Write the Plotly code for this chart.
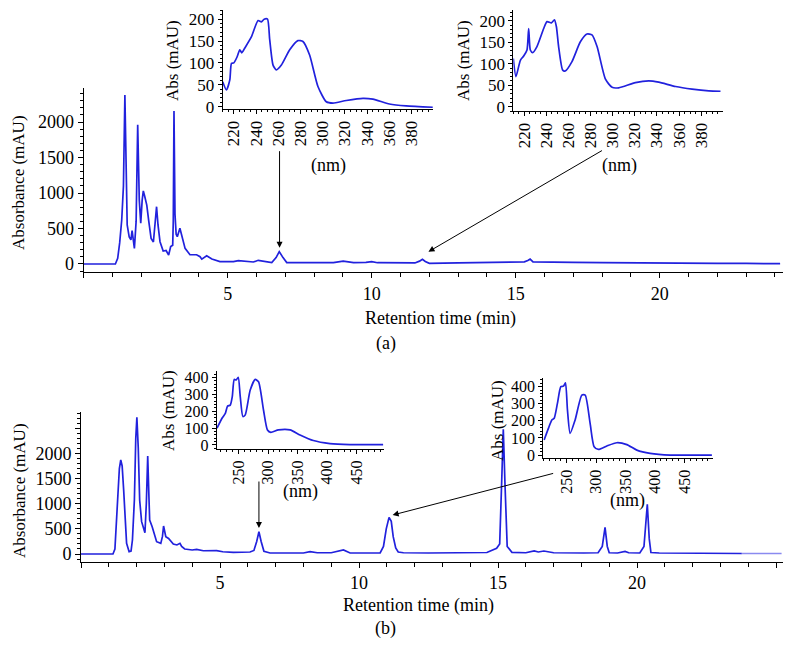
import plotly.graph_objects as go

# ---------------- data ----------------
# Chromatogram (a)
time_a = [0, 1.10, 1.18, 1.25, 1.32, 1.38, 1.43, 1.47, 1.51, 1.58, 1.64, 1.68, 1.72, 1.76, 1.82, 1.875,
          1.93, 1.98, 2.03, 2.07, 2.12, 2.19, 2.26, 2.34, 2.42, 2.48, 2.53, 2.58, 2.65, 2.76, 2.86, 2.95,
          3.02, 3.09, 3.11, 3.135, 3.17, 3.21, 3.25, 3.34, 3.42, 3.52, 3.69, 3.92, 4.04, 4.1, 4.27, 4.45,
          4.73, 5.2, 5.37, 5.6, 5.89, 6.06, 6.3, 6.53, 6.68, 6.79, 6.92, 7.05, 7.5, 8.0, 8.67, 9.01, 9.37,
          9.8, 10.0, 10.2, 11.0, 11.5, 11.66, 11.76, 11.86, 12.0, 13.0, 14.0, 14.69, 15.3, 15.42, 15.5,
          15.6, 15.8, 16.05, 16.3, 17.0, 18.0, 19.2, 20.0, 21.0, 22.0, 23.0, 24.18]
abs_a = [0, 0, 80, 300, 620, 1100, 2380, 1300, 550, 380, 340, 470, 350, 220, 600, 1960,
         900, 575, 900, 1030, 950, 830, 600, 360, 310, 550, 807, 550, 314, 183, 190, 127,
         245, 265, 600, 2155, 700, 420, 385, 503, 380, 220, 130, 130, 103, 68, 117, 70,
         33, 33, 47, 38, 28, 52, 40, 20, 90, 174, 90, 20, 18, 18, 20, 40, 20,
         22, 33, 18, 15, 15, 40, 66, 35, 10, 15, 25, 33, 30, 50, 70,
         30, 28, 35, 25, 22, 20, 20, 20, 15, 10, 8, 5]

# Chromatogram (b)
time_b = [0, 1.15, 1.22, 1.28, 1.32, 1.38, 1.43, 1.48, 1.535, 1.59, 1.64, 1.73, 1.80, 1.85, 1.92, 1.97,
          2.01, 2.06, 2.11, 2.18, 2.24, 2.30, 2.35, 2.40, 2.44, 2.47, 2.56, 2.64, 2.72, 2.87, 2.93, 2.97,
          3.01, 3.05, 3.15, 3.32, 3.45, 3.56, 3.62, 3.73, 4.0, 4.16, 4.4, 4.64, 4.88, 5.1, 5.48, 6.08,
          6.22, 6.32, 6.40, 6.48, 6.58, 6.8, 7.5, 8.0, 8.24, 8.5, 9.0, 9.25, 9.44, 9.68, 10.0, 10.5,
          10.76, 10.88, 10.98, 11.08, 11.16, 11.23, 11.32, 11.41, 11.6, 12.5, 13.5, 14.0, 14.6, 14.95,
          15.06, 15.13, 15.19, 15.25, 15.33, 15.5, 16.0, 16.3, 16.45, 16.65, 17.0, 18.08, 18.6, 18.75,
          18.85, 18.93, 19.0, 19.3, 19.57, 19.7, 20.1, 20.25, 20.37, 20.44, 20.5, 20.8, 21.5, 22.35,
          23.0, 23.77]
abs_b = [0, 0, 100, 700, 1140, 1700, 1870, 1750, 1270, 650, 212, 47, 60, 278, 1073, 2300,
         2717, 2100, 1073, 643, 520, 424, 1000, 1948, 1200, 676, 543, 400, 245, 212, 350, 557,
         420, 344, 310, 199, 180, 212, 150, 100, 80, 93, 65, 60, 66, 45, 33, 40,
         70, 250, 443, 250, 55, 20, 15, 20, 46, 25, 25, 50, 80, 20, 18, 18,
         20, 150, 500, 729, 650, 344, 120, 40, 25, 20, 20, 20, 30, 113,
         200, 1400, 2479, 1400, 150, 33, 25, 60, 40, 60, 25, 20, 25, 150,
         530, 150, 25, 20, 53, 25, 20, 150, 988, 300, 30, 20, 20, 13,
         13, 10]
tail_time_b = [23.77, 25.2]
tail_abs_b = [10, 10]

# UV spectra (insets)
nm_a1 = [210, 213.4, 216.4, 217.9, 220, 223, 225.4, 227.2, 229.9, 235.9, 241.8, 244.8, 247.3, 250.3,
         252.3, 255.3, 258.3, 262.8, 270.3, 277.7, 282.2, 288.2, 295.7, 303.2, 309.2, 321.2, 336.2,
         345.2, 360, 375, 399]
spec_a1 = [57, 38, 61, 99, 100, 114, 130, 123, 134, 160, 197, 194, 200, 200, 153, 95, 84, 95, 130,
           151, 149, 118, 46, 11, 8, 14, 19, 17, 6, 1.5, -1.5]

nm_a2 = [210, 212.4, 216.4, 219.4, 222.4, 223.9, 225.4, 227.5, 231.4, 237.5, 240.5, 244.5, 247.2, 249,
         251, 254.7, 257, 263.1, 270.7, 276.7, 281.2, 285.8, 293.4, 299.4, 305.4, 320.5, 332.6, 341.6,
         356.8, 371.8, 386.9, 397.5]
spec_a2 = [112, 70, 108, 118, 132, 182, 132, 126, 140, 182, 198, 195, 202, 186, 140, 85, 83, 105, 151,
           169, 167, 140, 64, 45, 44, 56, 60, 57, 47, 41, 37, 36]

nm_b1 = [213.5, 222, 227.6, 231.4, 236, 239.4, 242.7, 246, 249.5, 252.9, 257.4, 261.4, 269.8, 278.2,
         283.9, 292.3, 299, 304.7, 317.6, 337.3, 354.2, 376.7, 404.9, 438.7, 495]
spec_b1 = [99, 158, 187, 230, 236, 286, 388, 385, 400, 286, 168, 178, 325, 388, 374, 207, 89, 75, 89,
           89, 59, 26, 8, 2, 2]

nm_b2 = [211.4, 218.7, 224.5, 228.5, 234, 239.8, 244.3, 247.7, 251.1, 255.6, 264.1, 275.5, 281.2,
         289.6, 296.4, 303.8, 318, 335, 352, 369, 391.7, 425.7, 496.6]
spec_b2 = [88, 156, 205, 215, 302, 400, 403, 423, 263, 127, 205, 351, 351, 185, 49, 33, 53, 72, 61,
           29, 10, 0, 0]

# tick steps (major, minor)
main_x_step, main_x_minor = 5, 1
main_y_step, main_y_minor = 500, 100
inset_a_x_step, inset_a_x_minor = 20, 5
inset_a_y_step, inset_a_y_minor = 50, 10
inset_b_x_step, inset_b_x_minor = 50, 10
inset_b_y_step, inset_b_y_minor = 100, 20

assert len(time_a) == len(abs_a) and len(time_b) == len(abs_b)
assert len(nm_a1) == len(spec_a1) and len(nm_a2) == len(spec_a2)
assert len(nm_b1) == len(spec_b1) and len(nm_b2) == len(spec_b2)

# ---------------- layout helpers ----------------
W, H = 795, 668
BLUE = "#2121dd"
FONT = "Liberation Serif"
MAIN_TICK = 18
INSET_TICK = 17
TITLE = 18


def fx(p):
    return p / W


def fy(p):
    return 1 - p / H


def axis(domain, rng, step, minor_step, font_size, ticklen=5, minor_len=3, angle=0, anchor=None,
         hide=None):
    d = dict(domain=domain, range=rng, showline=True, linecolor="black", linewidth=1,
             ticks="outside", tickcolor="black", ticklen=ticklen, tickwidth=1,
             tickmode="linear", tick0=0, dtick=step, showgrid=False, zeroline=False,
             automargin=False,
             tickfont=dict(family=FONT, size=font_size, color="black"), tickangle=angle,
             minor=dict(ticks="outside", ticklen=minor_len, tickcolor="black", tickwidth=1,
                        tickmode="linear", tick0=0, dtick=minor_step, showgrid=False),
             fixedrange=True)
    if hide:
        d["labelalias"] = {h: " " for h in hide}
    if anchor:
        d["anchor"] = anchor
    return d


fig = go.Figure()
line = dict(color=BLUE, width=1.7)
fig.add_trace(go.Scatter(x=time_a, y=abs_a, mode="lines", line=line, xaxis="x", yaxis="y"))
fig.add_trace(go.Scatter(x=time_b, y=abs_b, mode="lines", line=line, xaxis="x2", yaxis="y2"))
fig.add_trace(go.Scatter(x=tail_time_b, y=tail_abs_b, mode="lines",
                         line=dict(color="#8a8af0", width=1.5), xaxis="x2", yaxis="y2"))
sline = dict(color=BLUE, width=1.7, shape="spline", smoothing=0.6)
fig.add_trace(go.Scatter(x=nm_a1, y=spec_a1, mode="lines", line=sline, xaxis="x3", yaxis="y3"))
fig.add_trace(go.Scatter(x=nm_a2, y=spec_a2, mode="lines", line=sline, xaxis="x4", yaxis="y4"))
fig.add_trace(go.Scatter(x=nm_b1, y=spec_b1, mode="lines", line=sline, xaxis="x5", yaxis="y5"))
fig.add_trace(go.Scatter(x=nm_b2, y=spec_b2, mode="lines", line=sline, xaxis="x6", yaxis="y6"))

layout = dict(
    width=W, height=H, margin=dict(l=0, r=0, t=0, b=0, autoexpand=False),
    paper_bgcolor="white", plot_bgcolor="rgba(0,0,0,0)", showlegend=False,
    font=dict(family=FONT, size=TITLE, color="black"),
    # main (a)
    xaxis=axis([fx(83.7), fx(783)], [0, 24.28], main_x_step, main_x_minor, MAIN_TICK, ticklen=5,
               minor_len=4, anchor="y", hide=["0"]),
    yaxis=axis([fy(272.3), fy(88)], [-117, 2479], main_y_step, main_y_minor, MAIN_TICK, anchor="x"),
    # main (b)
    xaxis2=axis([fx(81), fx(782.7)], [0, 25.24], main_x_step, main_x_minor, MAIN_TICK, ticklen=5,
                minor_len=4, anchor="y2", hide=["0", "25"]),
    yaxis2=axis([fy(561.7), fy(412.3)], [-153, 2817], main_y_step, main_y_minor, MAIN_TICK, anchor="x2",
                hide=["2500"]),
    # inset a1
    xaxis3=axis([fx(222.7), fx(433.3)], [210, 399.5], inset_a_x_step, inset_a_x_minor, INSET_TICK,
                ticklen=4, minor_len=2, angle=-90, anchor="y3"),
    yaxis3=axis([fy(109), fy(10)], [-5.5, 221], inset_a_y_step, inset_a_y_minor, INSET_TICK, ticklen=4,
                minor_len=2, anchor="x3"),
    # inset a2
    xaxis4=axis([fx(513.3), fx(722.7)], [210, 399.5], inset_a_x_step, inset_a_x_minor, INSET_TICK,
                ticklen=4, minor_len=2, angle=-90, anchor="y4"),
    yaxis4=axis([fy(111), fy(10)], [-10, 225], inset_a_y_step, inset_a_y_minor, INSET_TICK, ticklen=4,
                minor_len=2, anchor="x4"),
    # inset b1
    xaxis5=axis([fx(216.7), fx(384.3)], [213, 497], inset_b_x_step, inset_b_x_minor, INSET_TICK - 1,
                ticklen=4, minor_len=2, angle=-90, anchor="y5"),
    yaxis5=axis([fy(449), fy(371)], [-24, 438], inset_b_y_step, inset_b_y_minor, INSET_TICK - 1,
                ticklen=4, minor_len=2, anchor="x5"),
    # inset b2
    xaxis6=axis([fx(543.3), fx(712.7)], [210, 498], inset_b_x_step, inset_b_x_minor, INSET_TICK - 1,
                ticklen=4, minor_len=2, angle=-90, anchor="y6"),
    yaxis6=axis([fy(458.3), fy(378.3)], [-19, 449], inset_b_y_step, inset_b_y_minor, INSET_TICK - 1,
                ticklen=4, minor_len=2, anchor="x6"),
)
fig.update_layout(**layout)


def label(text, x, y, size=TITLE, angle=0):
    fig.add_annotation(text=text, x=fx(x), y=fy(y), xref="paper", yref="paper", showarrow=False,
                       textangle=angle, font=dict(family=FONT, size=size, color="black"),
                       xanchor="center", yanchor="middle")


label("Absorbance (mAU)", 19, 183, 17, -90)
label("Retention time (min)", 440, 318)
label("(a)", 386, 343)
label("Absorbance (mAU)", 19, 491, 17, -90)
label("Retention time (min)", 418, 605)
label("(b)", 385, 628)
label("Abs (mAU)", 172, 61, 17, -90)
label("Abs (mAU)", 463, 61, 17, -90)
label("Abs (mAU)", 168, 411, 17, -90)
label("Abs (mAU)", 497, 421, 17, -90)
label("(nm)", 328, 165)
label("(nm)", 619, 165)
label("(nm)", 300, 491)
label("(nm)", 627, 500)


def arrow(x, y, xr, yr, ax, ay):
    fig.add_annotation(x=x, y=y, xref=xr, yref=yr, ax=ax, ay=ay, axref="pixel", ayref="pixel",
                       text="", showarrow=True, arrowhead=2, arrowsize=1.2, arrowwidth=1,
                       arrowcolor="black", standoff=0)


arrow(6.8, 230, "x", "y", 0, -98)
arrow(11.97, 173, "x", "y", 175, -102)
arrow(6.40, 517, "x2", "y2", 0, -48)
arrow(11.21, 775, "x2", "y2", 162, -42)

fig.write_html("out.html", config={"displayModeBar": False, "staticPlot": True},
               post_script="document.body.style.margin='0px';document.body.style.overflow='hidden';")
